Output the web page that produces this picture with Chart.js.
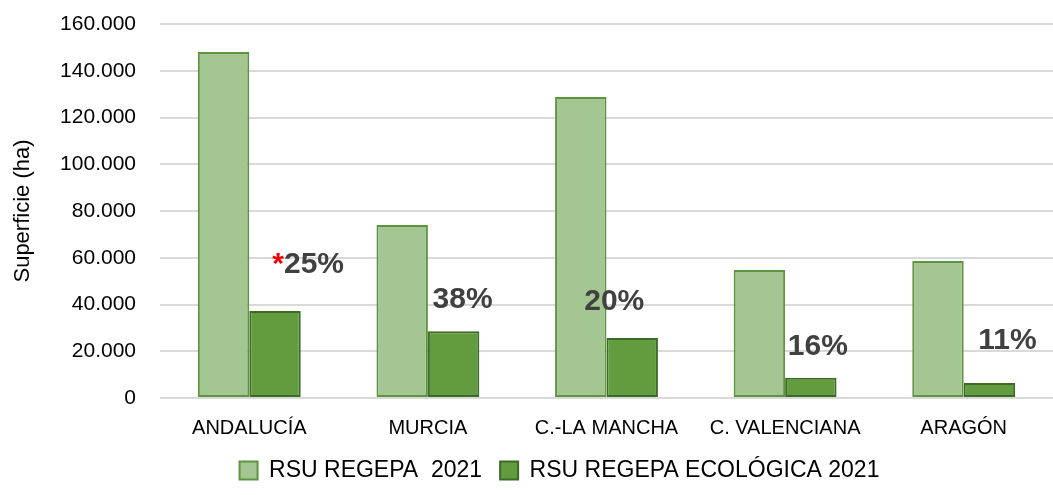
<!DOCTYPE html>
<html>
<head>
<meta charset="utf-8">
<script src="https://cdn.jsdelivr.net/npm/chart.js@4/dist/chart.umd.min.js"></script>
<style>
  html, body { margin: 0; padding: 0; background: #fff; }
  #wrap { width: 1053px; height: 495px; overflow: hidden; }
</style>
</head>
<body>
<div id="wrap"><canvas id="chart" width="1053" height="495"></canvas></div>
<script>
// datos
const categorias = ['ANDALUCÍA', 'MURCIA', 'C.-LA MANCHA', 'C. VALENCIANA', 'ARAGÓN'];
const rsuRegepa = [148000, 74000, 128800, 54800, 58600];
const rsuEcologica = [37200, 28600, 25700, 8700, 6400];
const porcentajes = ['25%', '38%', '20%', '16%', '11%'];
const notas = ['*', '', '', '', ''];
const yTicks = [0, 20000, 40000, 60000, 80000, 100000, 120000, 140000, 160000];

const FONT = "'Liberation Sans', Arial, sans-serif";

function formatMiles(v) {
  return String(v).replace(/\B(?=(\d{3})+(?!\d))/g, '.');
}

// etiquetas de porcentaje encima de las barras ecológicas
const etiquetasPct = {
  id: 'etiquetasPct',
  afterDatasetsDraw(chart, args, opts) {
    const ctx = chart.ctx;
    const meta = chart.getDatasetMeta(1);
    ctx.save();
    ctx.font = 'bold 30px ' + FONT;
    ctx.textBaseline = 'middle';
    meta.data.forEach((bar, i) => {
      const [dx, dy] = opts.offsets[i];
      const txt = porcentajes[i];
      const w = ctx.measureText(txt).width;
      const x = bar.x + dx - w / 2;
      const y = bar.y - dy;
      ctx.fillStyle = '#404040';
      ctx.textAlign = 'left';
      ctx.fillText(txt, x, y);
      if (notas[i]) {
        ctx.fillStyle = '#ff0000';
        ctx.textAlign = 'right';
        ctx.fillText(notas[i], x, y);
      }
    });
    ctx.restore();
  }
};

// título del eje Y
const tituloEjeY = {
  id: 'tituloEjeY',
  afterDraw(chart) {
    const ctx = chart.ctx;
    const area = chart.chartArea;
    ctx.save();
    ctx.translate(23, (area.top + area.bottom) / 2);
    ctx.rotate(-Math.PI / 2);
    ctx.font = '22px ' + FONT;
    ctx.fillStyle = '#000';
    ctx.textAlign = 'center';
    ctx.textBaseline = 'middle';
    ctx.fillText('Superficie (ha)', 0, 0);
    ctx.restore();
  }
};

new Chart(document.getElementById('chart'), {
  type: 'bar',
  data: {
    labels: categorias,
    datasets: [{
      label: 'RSU REGEPA  2021',
      data: rsuRegepa,
      backgroundColor: '#a4c693',
      borderColor: '#5e9440',
      borderWidth: 2,
      borderSkipped: false
    }, {
      label: 'RSU REGEPA ECOLÓGICA 2021',
      data: rsuEcologica,
      backgroundColor: '#639b3f',
      borderColor: '#3e6a27',
      borderWidth: 2,
      borderSkipped: false
    }]
  },
  options: {
    responsive: false,
    animation: false,
    // el gráfico original está recortado por la derecha
    layout: { padding: { left: 58, right: -8, top: 24, bottom: 3 } },
    categoryPercentage: 0.576,
    barPercentage: 1,
    scales: {
      x: {
        grid: { display: false, drawTicks: false },
        border: { display: false },
        afterFit: (s) => { s.height = 43; s.paddingRight = -8; },
        ticks: { color: '#000', font: { family: FONT, size: 20 }, padding: 18 }
      },
      y: {
        min: 0,
        max: 160000,
        afterBuildTicks: (s) => { s.ticks = yTicks.map(v => ({ value: v })); },
        afterFit: (s) => { s.width = 102; s.paddingRight = -8; },
        grid: { color: '#d9d9d9', lineWidth: 2, drawTicks: true, tickLength: 22, tickColor: 'rgba(0,0,0,0)' },
        border: { display: false },
        ticks: {
          color: '#000',
          font: { family: FONT, size: 21 },
          padding: 2,
          callback: (v) => formatMiles(v)
        }
      }
    },
    plugins: {
      legend: {
        position: 'bottom',
        labels: {
          color: '#000',
          font: { family: FONT, size: 23 },
          boxWidth: 18,
          boxHeight: 18,
          padding: 18
        }
      },
      tooltip: { enabled: false },
      etiquetasPct: { offsets: [[39, 46], [9, 31], [-18, 36], [7, 31], [18, 42]] }
    }
  },
  plugins: [etiquetasPct, tituloEjeY]
});
</script>
</body>
</html>
